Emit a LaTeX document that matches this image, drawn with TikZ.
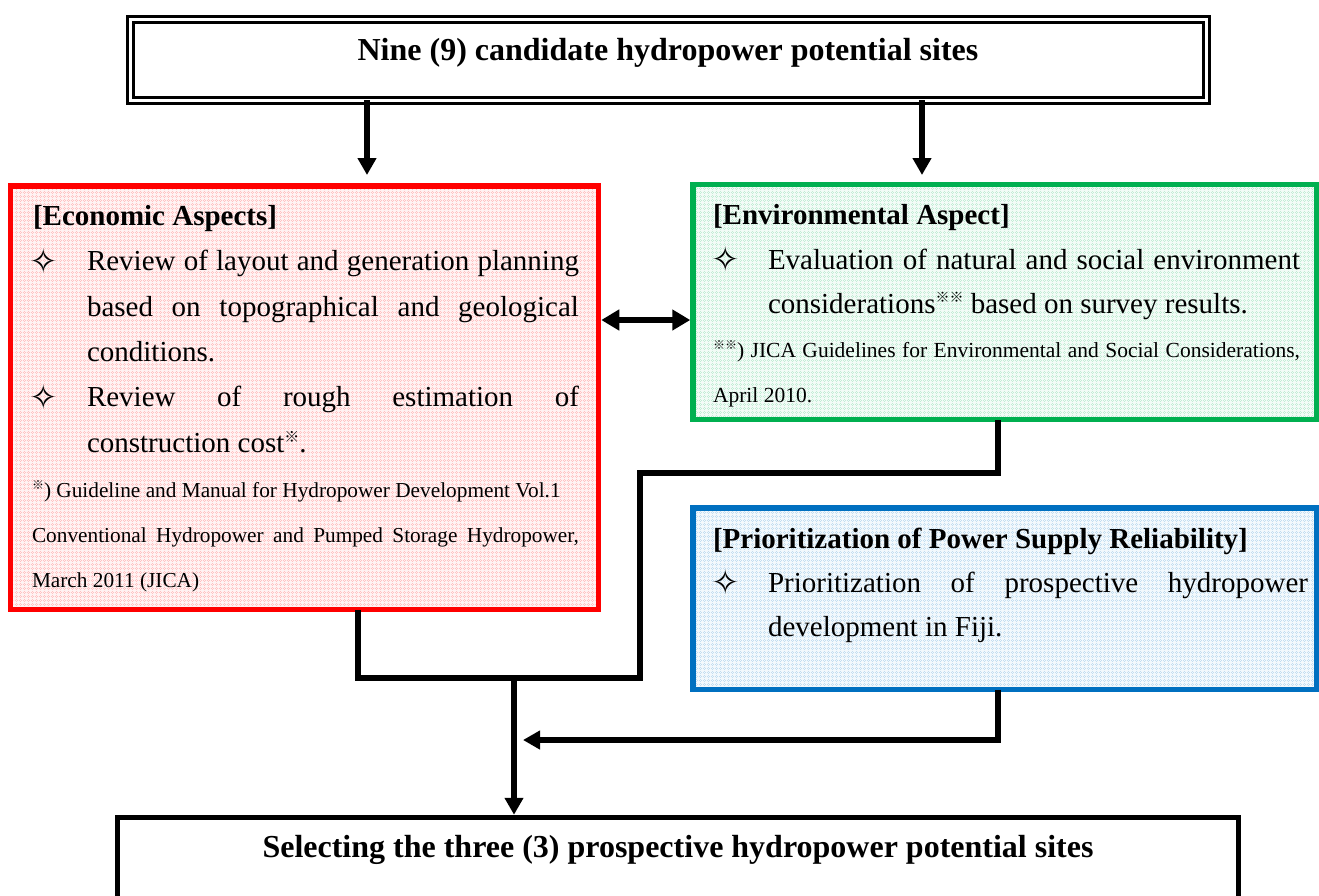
\documentclass[tikz,border=0pt]{standalone}
\usepackage{fontspec}
\setmainfont{Liberation Serif}
\newfontfamily\symfont{DejaVu Sans}
\newfontfamily\cjkfont{Noto Sans CJK JP}
\usetikzlibrary{arrows.meta,calc}

\definecolor{econred}{RGB}{255,0,0}
\definecolor{envgreen}{RGB}{0,176,80}
\definecolor{prioblue}{RGB}{0,112,192}

% font sizes (1pt = 1 output pixel)
\newcommand\fTitle{\bfseries\fontsize{32}{38}\selectfont}
\newcommand\fHead{\bfseries\fontsize{29}{35}\selectfont}
\newcommand\fBody{\fontsize{29}{35}\selectfont}
\newcommand\fNoteR{\fontsize{21.3}{25}\selectfont}
\newcommand\fNoteG{\fontsize{21.5}{25}\selectfont}
% raised reference mark: size, raise, marks
\newcommand\refmk[3]{\raisebox{#2}{\cjkfont\fontsize{#1}{#1}\selectfont #3}}

\tikzset{
  box/.style={rectangle, line width=5.5pt, outer sep=0pt, inner sep=0pt},
  txt/.style={anchor=base west, inner sep=0pt, outer sep=0pt},
  bul/.style={anchor=center, inner sep=0pt, outer sep=0pt,
              font=\symfont\fontsize{34}{34}\selectfont},
  conn/.style={line width=5.5pt, line join=miter},
  arr/.style={conn, -{Triangle[length=17pt,width=18pt]}},
  darr/.style={conn, {Triangle[length=18pt,width=20pt]}-{Triangle[length=18pt,width=20pt]}},
  dotgrid/.style={#1!24, line width=0.5pt, dash pattern=on 0.8pt off 1.2pt, step=4pt},
}

% dotted-grid shading inside a box
\newcommand\shadebox[2]{%
  \begin{scope}
    \clip ([shift={(3pt,-3pt)}]#1.north west) rectangle ([shift={(-3pt,3pt)}]#1.south east);
    \draw[dotgrid=#2] (#1.north west) grid (#1.south east);
  \end{scope}}

\begin{document}
\begin{tikzpicture}[x=1pt,y=-1pt]
\useasboundingbox (0,0) rectangle (1319,895);
\clip (0,0) rectangle (1319,895);

% ---- boxes ----
\node[rectangle, draw=black, line width=3pt, double=white, double distance=3pt,
      outer sep=0pt, minimum width=1076pt, minimum height=80.5pt] (top) at (668,59.75) {};

\node[box, draw=econred, fill=econred!5, minimum width=588pt, minimum height=423.5pt] (econ) at (304.5,397.75) {};
\shadebox{econ}{econred}
\draw[econred, line width=5.5pt] (econ.north west) rectangle (econ.south east);

\node[box, draw=envgreen, fill=envgreen!5, minimum width=623.5pt, minimum height=235pt] (env) at (1004.75,302) {};
\shadebox{env}{envgreen}
\draw[envgreen, line width=5.5pt] (env.north west) rectangle (env.south east);

\node[box, draw=prioblue, fill=prioblue!5, minimum width=623.5pt, minimum height=181.5pt] (prio) at (1004.75,598.75) {};
\shadebox{prio}{prioblue}
\draw[prioblue, line width=5.5pt] (prio.north west) rectangle (prio.south east);

\node[box, draw=black, fill=white, minimum width=1121pt, minimum height=142.5pt] (sel) at (678,888.75) {};

% ---- titles ----
\node[anchor=base, inner sep=0pt] (ttop) at (668,60) {\fTitle Nine (9) candidate hydropower potential sites};
\node[anchor=base, inner sep=0pt] (tsel) at (678,857) {\fTitle Selecting the three (3) prospective hydropower potential sites};

% ---- economic aspects ----
\node[txt] (eh) at (33,225) {\fHead [Economic Aspects]};
\node[bul] (eb1) at (44,261) {✧};
\node[txt] (e1) at (87,270) {\fBody\makebox[492pt][s]{Review of layout and generation planning}};
\node[txt] (e2) at (87,316) {\fBody\makebox[492pt][s]{based on topographical and geological}};
\node[txt] (e3) at (87,361) {\fBody conditions.};
\node[bul] (eb2) at (44,397) {✧};
\node[txt] (e4) at (87,406) {\fBody\makebox[492pt][s]{Review of rough estimation of}};
\node[txt] (e5) at (87,452) {\fBody construction cost\refmk{15}{10pt}{※}.};
\node[txt] (en1) at (32,497) {\fNoteR\refmk{12}{8pt}{※}) Guideline and Manual for Hydropower Development Vol.1};
\node[txt] (en2) at (32,542) {\fNoteR\makebox[547pt][s]{Conventional Hydropower and Pumped Storage Hydropower,}};
\node[txt] (en3) at (32,587) {\fNoteR March 2011 (JICA)};

% ---- environmental aspect ----
\node[txt] (vh) at (713,224) {\fHead [Environmental Aspect]};
\node[bul] (vb1) at (726,259) {✧};
\node[txt] (v1) at (768,269) {\fBody\makebox[532pt][s]{Evaluation of natural and social environment}};
\node[txt] (v2) at (768,313) {\fBody considerations\refmk{14}{11pt}{※※} based on survey results.};
\node[txt] (vn1) at (713,357) {\fNoteG\makebox[587pt][s]{\refmk{12}{8pt}{※※}) JICA Guidelines for Environmental and Social Considerations,}};
\node[txt] (vn2) at (713,402) {\fNoteG April 2010.};

% ---- power supply reliability ----
\node[txt] (ph) at (713,548) {\fHead [Prioritization of Power Supply Reliability]};
\node[bul] (pb1) at (726,582.5) {✧};
\node[txt] (p1) at (768,592) {\fBody\makebox[540pt][s]{Prioritization of prospective hydropower}};
\node[txt] (p2) at (768,636) {\fBody development in Fiji.};

% ---- connectors ----
\coordinate (xE) at (367,0);
\coordinate (xV) at (922,0);
\draw[arr, shorten >=11pt] (top.south -| xE) -- (econ.north -| xE);
\draw[arr, shorten >=9.5pt] (top.south -| xV) -- (env.north -| xV);

\coordinate (yD) at (0,320);
\draw[darr, shorten <=2.75pt, shorten >=2.75pt] (econ.east |- yD) -- (env.west |- yD);

\coordinate (c1) at (358,678);
\coordinate (c2) at (640,678);
\coordinate (c3) at (640,473);
\coordinate (c4) at (998,473);
\draw[conn] (econ.south -| c1) -- (c1) -- (c2) -- (c3) -- (c4) -- (env.south -| c4);

\coordinate (jn) at (514,678);
\draw[arr, shorten >=2.75pt] (jn) -- (sel.north -| jn);

\coordinate (b1) at (998,740);
\coordinate (tipL) at (523,740);
\draw[arr] (prio.south -| b1) -- (b1) -- (tipL);
\end{tikzpicture}
\end{document}
